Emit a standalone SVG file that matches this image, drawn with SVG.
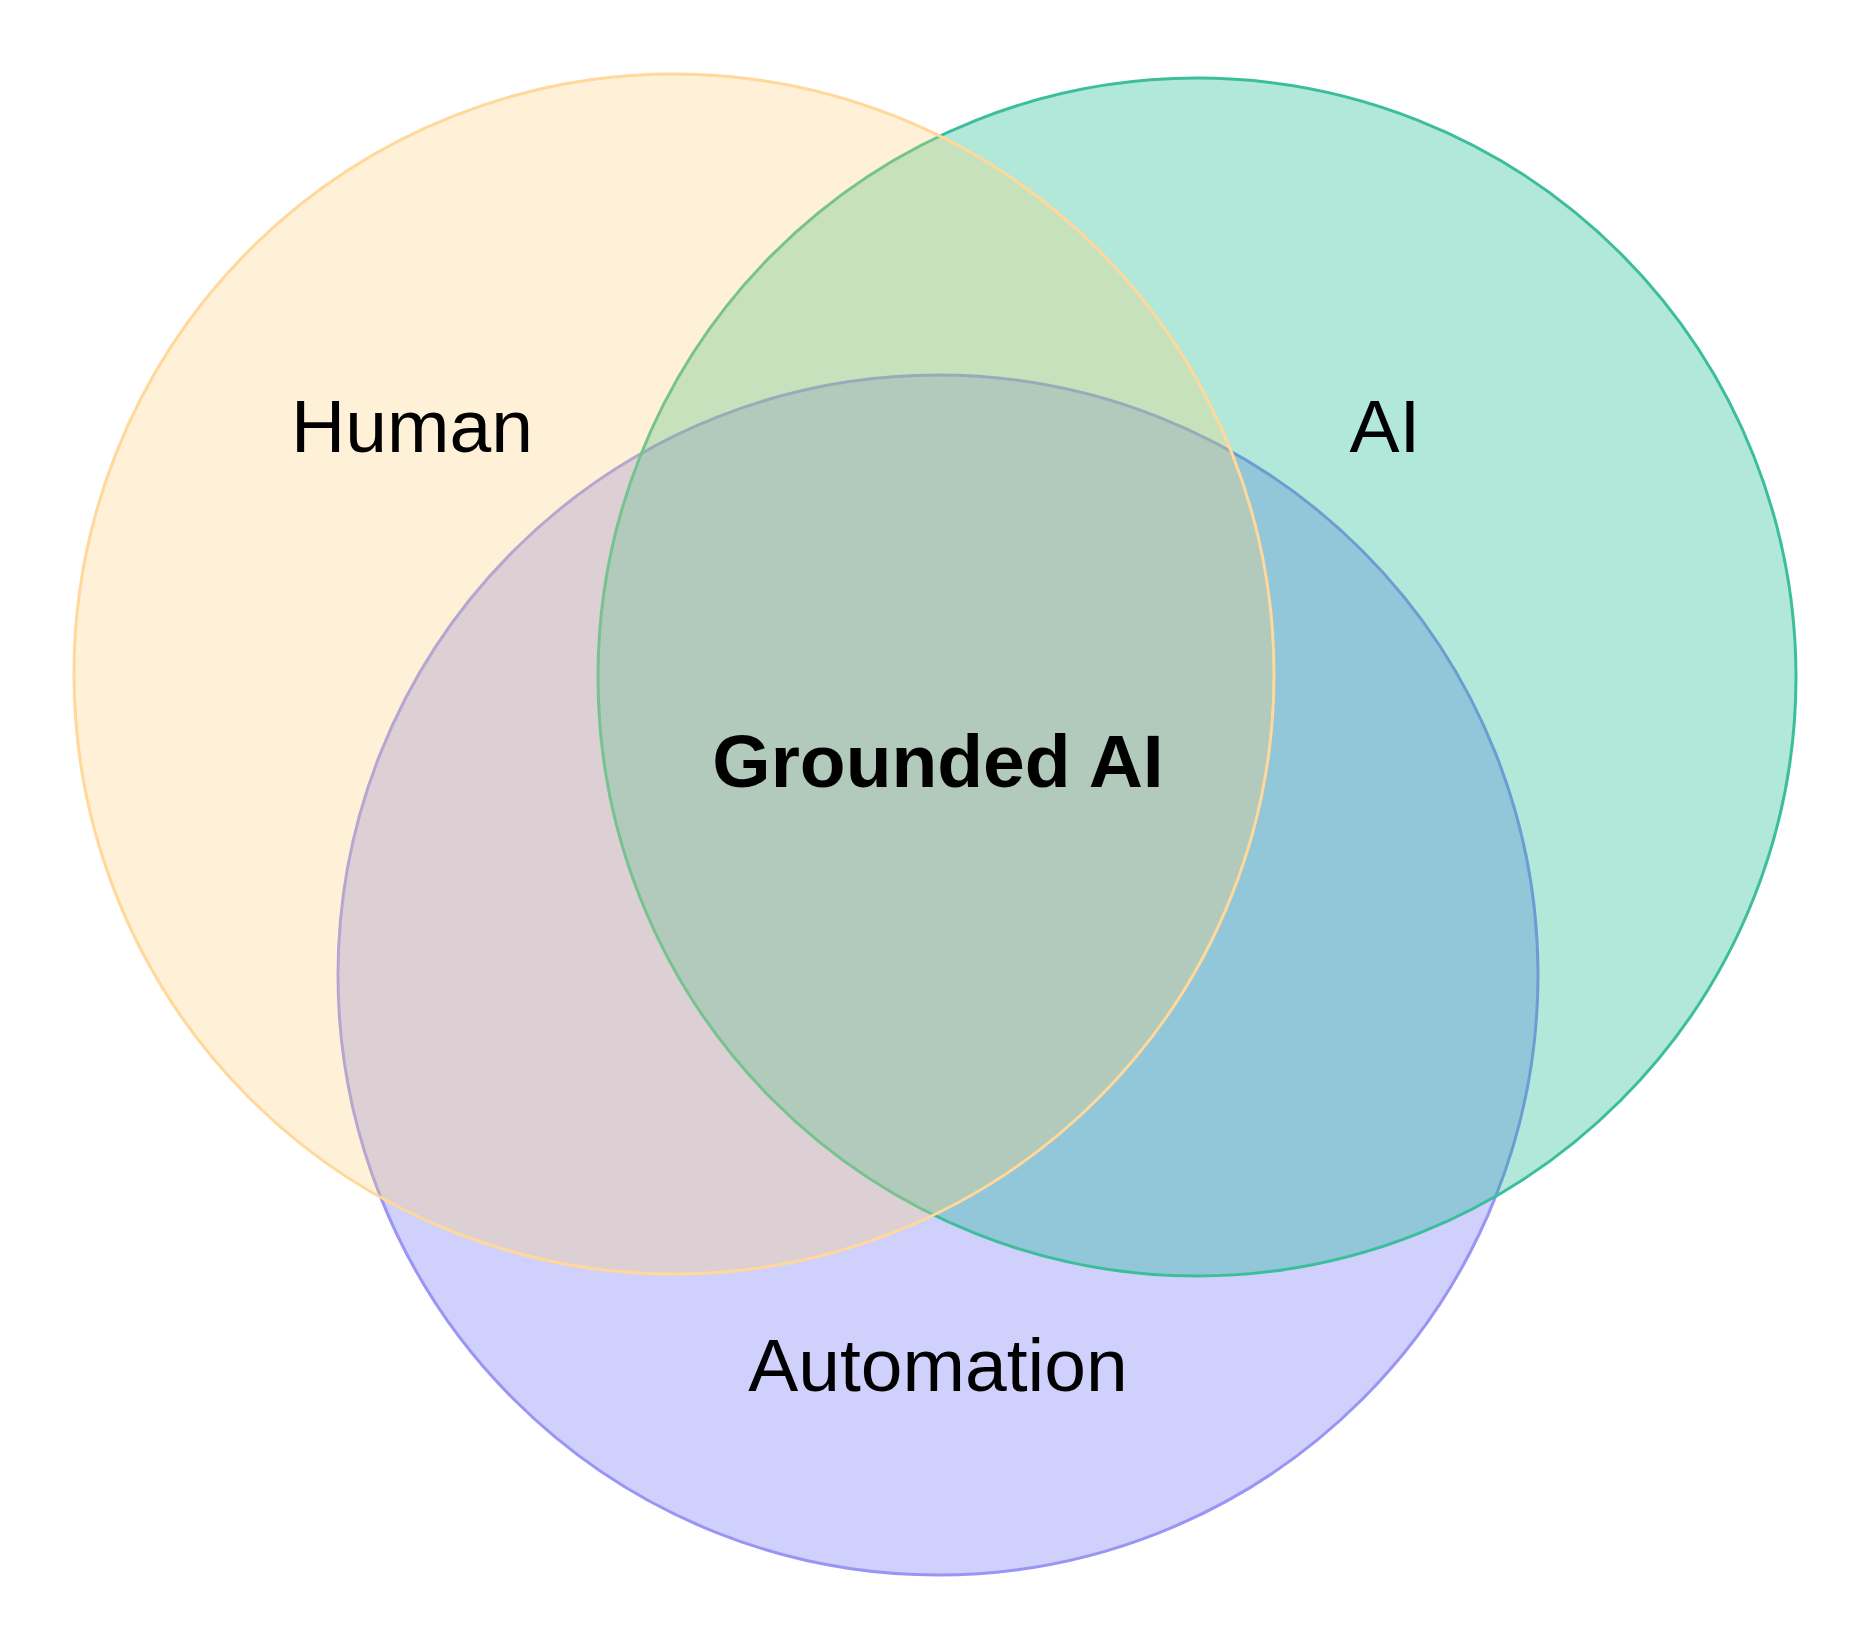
<svg xmlns="http://www.w3.org/2000/svg" width="1871" height="1650" viewBox="0 0 1871 1650">
<style>
.c{fill-opacity:0.3;stroke-width:3}
.t{font-family:"Liberation Sans",Arial,sans-serif;font-size:75px;fill:#000;text-anchor:middle}
</style>
<rect width="1871" height="1650" fill="#fff"/>
<g id="automation"><circle class="c" cx="938" cy="975" r="600" fill="#6262F5" stroke="#9A94F5"/></g>
<g id="ai"><circle class="c" cx="1197" cy="677" r="599" fill="#00B386" stroke="#3DBE9A" fill-opacity="0.28"/></g>
<g id="human"><circle class="c" cx="674" cy="674" r="600" fill="#FDCF7A" stroke="#FFD89A" fill-opacity="0.27"/></g>
<g id="labels">
<text class="t" x="412" y="452">Human</text>
<text class="t" x="1385" y="452">AI</text>
<text class="t" x="938" y="1391">Automation</text>
<text class="t" x="938" y="787" font-size="72" font-weight="bold">Grounded AI</text>
</g>
</svg>
